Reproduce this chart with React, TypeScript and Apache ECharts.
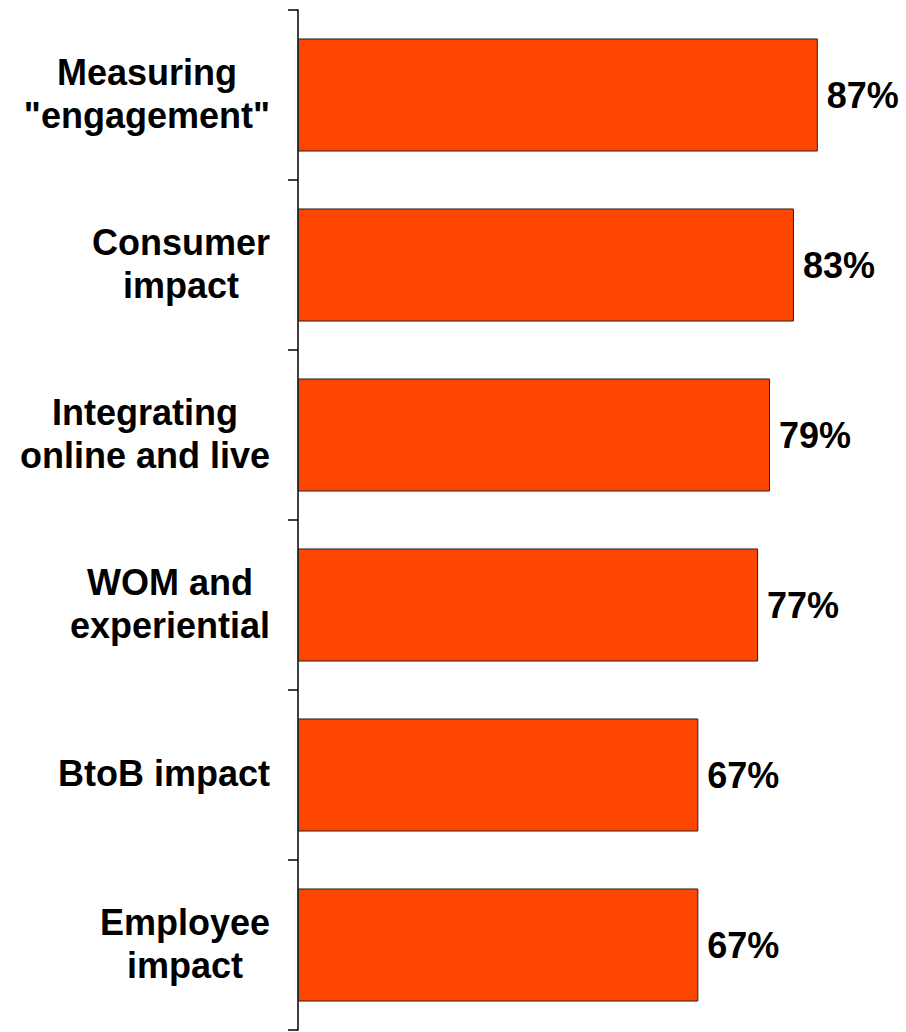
import React, { useEffect, useRef } from "react";
import * as echarts from "echarts";

// Survey topics (top to bottom) and share of respondents, in percent
const categories: string[] = [
  'Measuring\n"engagement"',
  "Consumer\nimpact",
  "Integrating\nonline and live",
  "WOM and\nexperiential",
  "BtoB impact",
  "Employee\nimpact",
];
const shares: number[] = [87, 83, 79, 77, 67, 67];

const BAR_COLOR = "#FF4600";
const FONT = "'Liberation Sans', Arial, Helvetica, sans-serif";

export default function App() {
  const ref = useRef<HTMLDivElement>(null);

  useEffect(() => {
    if (!ref.current) return;
    const chart = echarts.init(ref.current, undefined, { renderer: "svg" });

    chart.setOption({
      animation: false,
      backgroundColor: "#ffffff",
      grid: { left: 298, right: 10.5, top: 10, bottom: 2, containLabel: false },
      xAxis: {
        type: "value",
        min: 0,
        max: 100,
        show: false,
        splitLine: { show: false },
      },
      yAxis: {
        type: "category",
        inverse: true,
        data: categories,
        axisLine: { show: true, lineStyle: { color: "#000", width: 1.5 } },
        axisTick: { show: true, inside: false, length: 10, lineStyle: { color: "#000", width: 1.5 } },
        splitLine: { show: false },
        axisLabel: {
          margin: 28,
          color: "#000",
          fontFamily: FONT,
          fontWeight: "bold",
          fontSize: 36,
          lineHeight: 43,
          // lines are centred inside the right-aligned label block
          formatter: (v: string) =>
            v
              .split("\n")
              .map((l) => `{c|${l}}`)
              .join("\n"),
          rich: {
            c: {
              align: "center",
              color: "#000",
              fontFamily: FONT,
              fontWeight: "bold",
              fontSize: 36,
              lineHeight: 43,
              padding: [0, 0, 3, 0],
            },
          },
        },
      },
      series: [
        {
          type: "bar",
          data: shares,
          barCategoryGap: "33.5%",
          itemStyle: { color: BAR_COLOR, borderColor: "#222", borderWidth: 1 },
          label: {
            show: true,
            position: "right",
            distance: 9,
            formatter: "{c}%",
            color: "#000",
            fontFamily: FONT,
            fontWeight: "bold",
            fontSize: 36,
          },
        },
      ],
    });

    return () => chart.dispose();
  }, []);

  return (
    <div
      ref={ref}
      style={{ position: "absolute", left: 0, top: 0, width: 906, height: 1032, background: "#fff" }}
    />
  );
}
